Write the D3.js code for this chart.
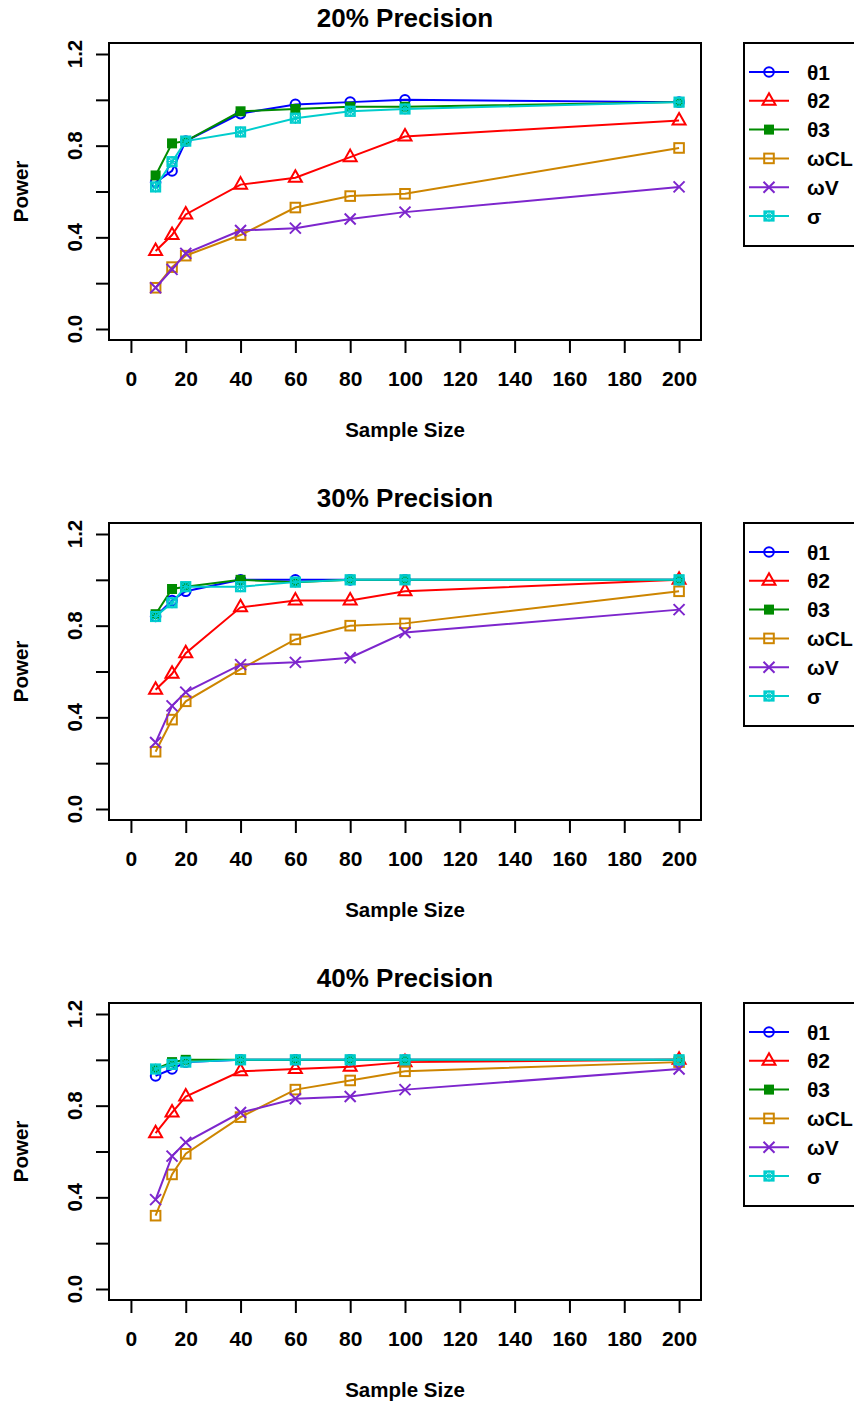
<!DOCTYPE html>
<html>
<head>
<meta charset="utf-8">
<script src="https://cdn.jsdelivr.net/npm/d3@7"></script>
<style>
html,body{margin:0;padding:0;background:#fff;}
text{font-family:"Liberation Sans",Arial,Helvetica,sans-serif;font-weight:bold;fill:#000;}
</style>
</head>
<body>
<svg id="chart" width="854" height="1406"></svg>
<script>
// ---- data ----
const sampleSizes = [9, 15, 20, 40, 60, 80, 100, 200];
const panelTitles = ["20% Precision", "30% Precision", "40% Precision"];
const seriesNames = ["θ1", "θ2", "θ3", "ωCL", "ωV", "σ"];
const seriesColors = ["#0000FF", "#FF0000", "#008B00", "#CD8500", "#7D26CD", "#00CDCD"];
const seriesMarkers = ["circle", "triangle", "fsquare", "square", "cross", "boxstar"];
const xTicks = [0, 20, 40, 60, 80, 100, 120, 140, 160, 180, 200];
const yTicks = [0, 0.2, 0.4, 0.6, 0.8, 1.0, 1.2];
const yTickLabels = ["0.0", "", "0.4", "", "0.8", "", "1.2"];

// 20% precision
const theta1_20 = [0.64, 0.69, 0.82, 0.94, 0.98, 0.99, 1.00, 0.99];
const theta2_20 = [0.34, 0.41, 0.50, 0.63, 0.66, 0.75, 0.84, 0.91];
const theta3_20 = [0.67, 0.81, 0.82, 0.95, 0.96, 0.97, 0.97, 0.99];
const omegaCL_20 = [0.18, 0.27, 0.32, 0.41, 0.53, 0.58, 0.59, 0.79];
const omegaV_20 = [0.18, 0.26, 0.33, 0.43, 0.44, 0.48, 0.51, 0.62];
const sigma_20 = [0.62, 0.73, 0.82, 0.86, 0.92, 0.95, 0.96, 0.99];
// 30% precision
const theta1_30 = [0.84, 0.91, 0.95, 1.00, 1.00, 1.00, 1.00, 1.00];
const theta2_30 = [0.52, 0.59, 0.68, 0.88, 0.91, 0.91, 0.95, 1.00];
const theta3_30 = [0.85, 0.96, 0.97, 1.00, 0.99, 1.00, 1.00, 1.00];
const omegaCL_30 = [0.25, 0.39, 0.47, 0.61, 0.74, 0.80, 0.81, 0.95];
const omegaV_30 = [0.29, 0.45, 0.51, 0.63, 0.64, 0.66, 0.77, 0.87];
const sigma_30 = [0.84, 0.90, 0.97, 0.97, 0.99, 1.00, 1.00, 1.00];
// 40% precision
const theta1_40 = [0.93, 0.96, 0.99, 1.00, 1.00, 1.00, 1.00, 1.00];
const theta2_40 = [0.68, 0.77, 0.84, 0.95, 0.96, 0.97, 0.99, 1.00];
const theta3_40 = [0.96, 0.99, 1.00, 1.00, 1.00, 1.00, 1.00, 1.00];
const omegaCL_40 = [0.32, 0.50, 0.59, 0.75, 0.87, 0.91, 0.95, 0.99];
const omegaV_40 = [0.39, 0.58, 0.64, 0.77, 0.83, 0.84, 0.87, 0.96];
const sigma_40 = [0.96, 0.98, 0.99, 1.00, 1.00, 1.00, 1.00, 1.00];

const panelSeries = [
  [theta1_20, theta2_20, theta3_20, omegaCL_20, omegaV_20, sigma_20],
  [theta1_30, theta2_30, theta3_30, omegaCL_30, omegaV_30, sigma_30],
  [theta1_40, theta2_40, theta3_40, omegaCL_40, omegaV_40, sigma_40]
];

// ---- layout ----
const svg = d3.select("#chart");
svg.append("rect").attr("width", 854).attr("height", 1406).attr("fill", "#fff");

const plotL = 109, plotR = 701, plotT = 43, plotB = 340, panelStep = 480;

function drawMarker(g, type, color) {
  const sw = 2;
  if (type === "circle") {
    g.append("circle").attr("r", 4.8).attr("fill", "none").attr("stroke", color).attr("stroke-width", sw);
  } else if (type === "triangle") {
    g.append("path").attr("d", "M0,-7.5L6.5,4L-6.5,4Z").attr("fill", "none").attr("stroke", color).attr("stroke-width", sw);
  } else if (type === "fsquare") {
    g.append("rect").attr("x", -5).attr("y", -5).attr("width", 10).attr("height", 10).attr("fill", color);
  } else if (type === "square") {
    g.append("rect").attr("x", -4.8).attr("y", -4.8).attr("width", 9.6).attr("height", 9.6).attr("fill", "none").attr("stroke", color).attr("stroke-width", sw);
  } else if (type === "cross") {
    g.append("path").attr("d", "M-5.5,-5.5L5.5,5.5M-5.5,5.5L5.5,-5.5").attr("stroke", color).attr("stroke-width", sw).attr("fill", "none");
  } else if (type === "boxstar") {
    g.append("rect").attr("x", -4.8).attr("y", -4.8).attr("width", 9.6).attr("height", 9.6).attr("fill", "none").attr("stroke", color).attr("stroke-width", 1.6);
    g.append("circle").attr("r", 4.2).attr("fill", "none").attr("stroke", color).attr("stroke-width", 1.6);
    g.append("path").attr("d", "M-4.8,-4.8L4.8,4.8M-4.8,4.8L4.8,-4.8M0,-5.5L0,5.5M-5.5,0L5.5,0").attr("stroke", color).attr("stroke-width", 1.2).attr("fill", "none");
  }
}

panelTitles.forEach((title, pi) => {
  const oy = pi * panelStep;
  const g = svg.append("g").attr("transform", `translate(0,${oy})`);

  const x = d3.scaleLinear().domain([-8, 208]).range([plotL, plotR]);
  const y = d3.scaleLinear().domain([-0.048, 1.248]).range([plotB, plotT]);

  // title
  g.append("text").attr("x", (plotL + plotR) / 2).attr("y", 26.5)
    .attr("text-anchor", "middle").attr("font-size", 26).text(title);

  // x axis
  const xa = g.append("g").attr("transform", `translate(0,${plotB})`)
    .call(d3.axisBottom(x).tickValues(xTicks).tickSize(13).tickPadding(18).tickFormat(d3.format("d")));
  xa.select(".domain").remove();
  xa.selectAll(".tick line").attr("stroke", "#000").attr("stroke-width", 2);
  xa.selectAll(".tick text").attr("font-size", 21).attr("font-family", "Liberation Sans, Arial, sans-serif").attr("font-weight", "bold");

  // y axis
  const ya = g.append("g").attr("transform", `translate(${plotL},0)`)
    .call(d3.axisLeft(y).tickValues(yTicks).tickSize(13).tickFormat(""));
  ya.select(".domain").remove();
  ya.selectAll(".tick line").attr("stroke", "#000").attr("stroke-width", 2);
  g.selectAll(".ylab").data(yTicks).enter().append("text")
    .attr("transform", d => `translate(82,${y(d)}) rotate(-90)`)
    .attr("text-anchor", "middle").attr("font-size", 20.5)
    .text((d, i) => yTickLabels[i]);

  // axis titles
  g.append("text").attr("x", (plotL + plotR) / 2).attr("y", 437)
    .attr("text-anchor", "middle").attr("font-size", 20.5).text("Sample Size");
  g.append("text").attr("transform", `translate(28,${(plotT + plotB) / 2}) rotate(-90)`)
    .attr("text-anchor", "middle").attr("font-size", 20.5).text("Power");

  // series
  const line = d3.line().x((d, i) => x(sampleSizes[i])).y(d => y(d));
  panelSeries[pi].forEach((vals, si) => {
    const sg = g.append("g");
    sg.append("path").datum(vals).attr("d", line).attr("fill", "none")
      .attr("stroke", seriesColors[si]).attr("stroke-width", 2);
    vals.forEach((v, i) => {
      const mg = sg.append("g").attr("transform", `translate(${x(sampleSizes[i])},${y(v)})`);
      drawMarker(mg, seriesMarkers[si], seriesColors[si]);
    });
  });

  // box
  g.append("rect").attr("x", plotL).attr("y", plotT).attr("width", plotR - plotL).attr("height", plotB - plotT)
    .attr("fill", "none").attr("stroke", "#000").attr("stroke-width", 2);

  // legend
  const lg = g.append("g");
  lg.append("rect").attr("x", 744).attr("y", 43).attr("width", 130).attr("height", 203)
    .attr("fill", "#fff").attr("stroke", "#000").attr("stroke-width", 2);
  seriesNames.forEach((name, si) => {
    const ry = 72 + si * 28.8;
    lg.append("line").attr("x1", 749).attr("x2", 789).attr("y1", ry).attr("y2", ry)
      .attr("stroke", seriesColors[si]).attr("stroke-width", 2);
    const mg = lg.append("g").attr("transform", `translate(769,${ry})`);
    drawMarker(mg, seriesMarkers[si], seriesColors[si]);
    lg.append("text").attr("x", 807).attr("y", ry).attr("dy", "0.36em")
      .attr("font-size", 21).text(name);
  });
});
</script>
</body>
</html>
